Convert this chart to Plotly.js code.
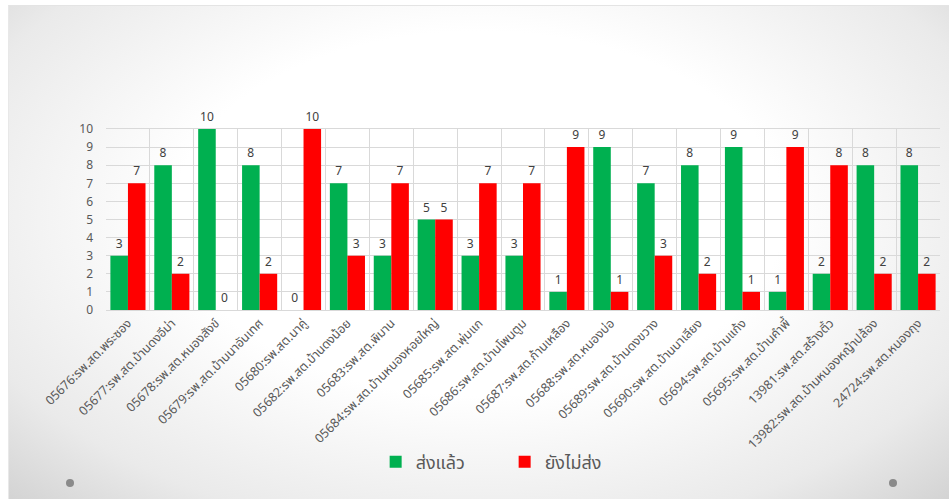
<!DOCTYPE html>
<html>
<head>
<meta charset="utf-8">
<script src="https://cdn.plot.ly/plotly-3.0.1.min.js"></script>
<style>
  html, body { margin:0; padding:0; width:949px; height:499px; overflow:hidden; background:#ffffff; }
  #slide { position:absolute; left:8px; top:5px; width:941px; height:494px;
    background: radial-gradient(ellipse 72% 82% at 50% 42%, #ffffff 0%, #ffffff 45%, #eaeaea 80%, #d2d2d2 100%);
    border-top:1px solid #e4e4e4; border-left:1px solid #e8e8e8; }
  #chart { position:absolute; left:0; top:0; width:949px; height:499px; }
  .dot { position:absolute; width:8px; height:8px; border-radius:50%; background:#8a8a8a; }
</style>
</head>
<body>
<div id="slide"></div>
<div class="dot" style="left:66px; top:479px;"></div>
<div class="dot" style="left:889px; top:479px;"></div>
<div id="chart"></div>
<script>
const categories = [
  "05676:รพ.สต.พระซอง",
  "05677:รพ.สต.บ้านดงอีม่า",
  "05678:รพ.สต.หนองสังข์",
  "05679:รพ.สต.บ้านนาอันเทศ",
  "05680:รพ.สต.นาคู่",
  "05682:รพ.สต.บ้านดงน้อย",
  "05683:รพ.สต.พิมาน",
  "05684:รพ.สต.บ้านหนองหอยใหญ่",
  "05685:รพ.สต.พุ่มแก",
  "05686:รพ.สต.บ้านโพนตูม",
  "05687:รพ.สต.ก้านเหลือง",
  "05688:รพ.สต.หนองบ่อ",
  "05689:รพ.สต.บ้านดงขวาง",
  "05690:รพ.สต.บ้านนาเลียง",
  "05694:รพ.สต.บ้านแก้ง",
  "05695:รพ.สต.บ้านคำพี้",
  "13981:รพ.สต.สร้างติ้ว",
  "13982:รพ.สต.บ้านหนองหญ้าปล้อง",
  "24724:รพ.สต.หนองกุง"
];
const sent =    [3, 8, 10, 8, 0, 7, 3, 5, 3, 3, 1, 9, 7, 8, 9, 1, 2, 8, 8];
const notSent = [7, 2, 0, 2, 10, 3, 7, 5, 7, 7, 9, 1, 3, 2, 1, 9, 8, 2, 2];
const seriesNames = ["ส่งแล้ว", "ยังไม่ส่ง"];
const yTicks = [0,1,2,3,4,5,6,7,8,9,10];

const font = "Tahoma, 'Noto Sans Thai', 'Noto Sans', 'DejaVu Sans', sans-serif";

const traces = [
  { type:'bar', name:seriesNames[0], x:categories, y:sent, marker:{color:'#00b050'},
    text:sent.map(String), textposition:'outside', cliponaxis:false,
    textfont:{size:12, color:'#404040', family:font} },
  { type:'bar', name:seriesNames[1], x:categories, y:notSent, marker:{color:'#ff0000'},
    text:notSent.map(String), textposition:'outside', cliponaxis:false,
    textfont:{size:12, color:'#404040', family:font} }
];

const layout = {
  width:949, height:499,
  margin:{l:106, r:9, t:129, b:189},
  paper_bgcolor:'rgba(0,0,0,0)', plot_bgcolor:'rgba(0,0,0,0)',
  barmode:'group', bargap:0.2, bargroupgap:0,
  font:{family:font, color:'#595959'},
  showlegend:true,
  legend:{orientation:'h', x:0.478, xanchor:'center', y:-0.84, yanchor:'middle',
    font:{size:18, color:'#595959', family:font}, itemwidth:30, entrywidth:84,
    entrywidthmode:'pixels', traceorder:'normal'},
  xaxis:{type:'category', tickangle:-45, tickson:'boundaries', showgrid:true,
    gridcolor:'#d9d9d9', gridwidth:1, ticks:'', showline:true, linecolor:'#d9d9d9',
    tickfont:{size:12.5, color:'#595959', family:font}, automargin:false, mirror:true},
  yaxis:{range:[0,10], tickvals:yTicks, showgrid:true, gridcolor:'#d9d9d9',
    zeroline:false, showline:false, ticks:'', ticklabelstandoff:12,
    tickfont:{size:12, color:'#595959', family:font}, automargin:false}
};

Plotly.newPlot('chart', traces, layout, {displayModeBar:false, staticPlot:true});
</script>
</body>
</html>
